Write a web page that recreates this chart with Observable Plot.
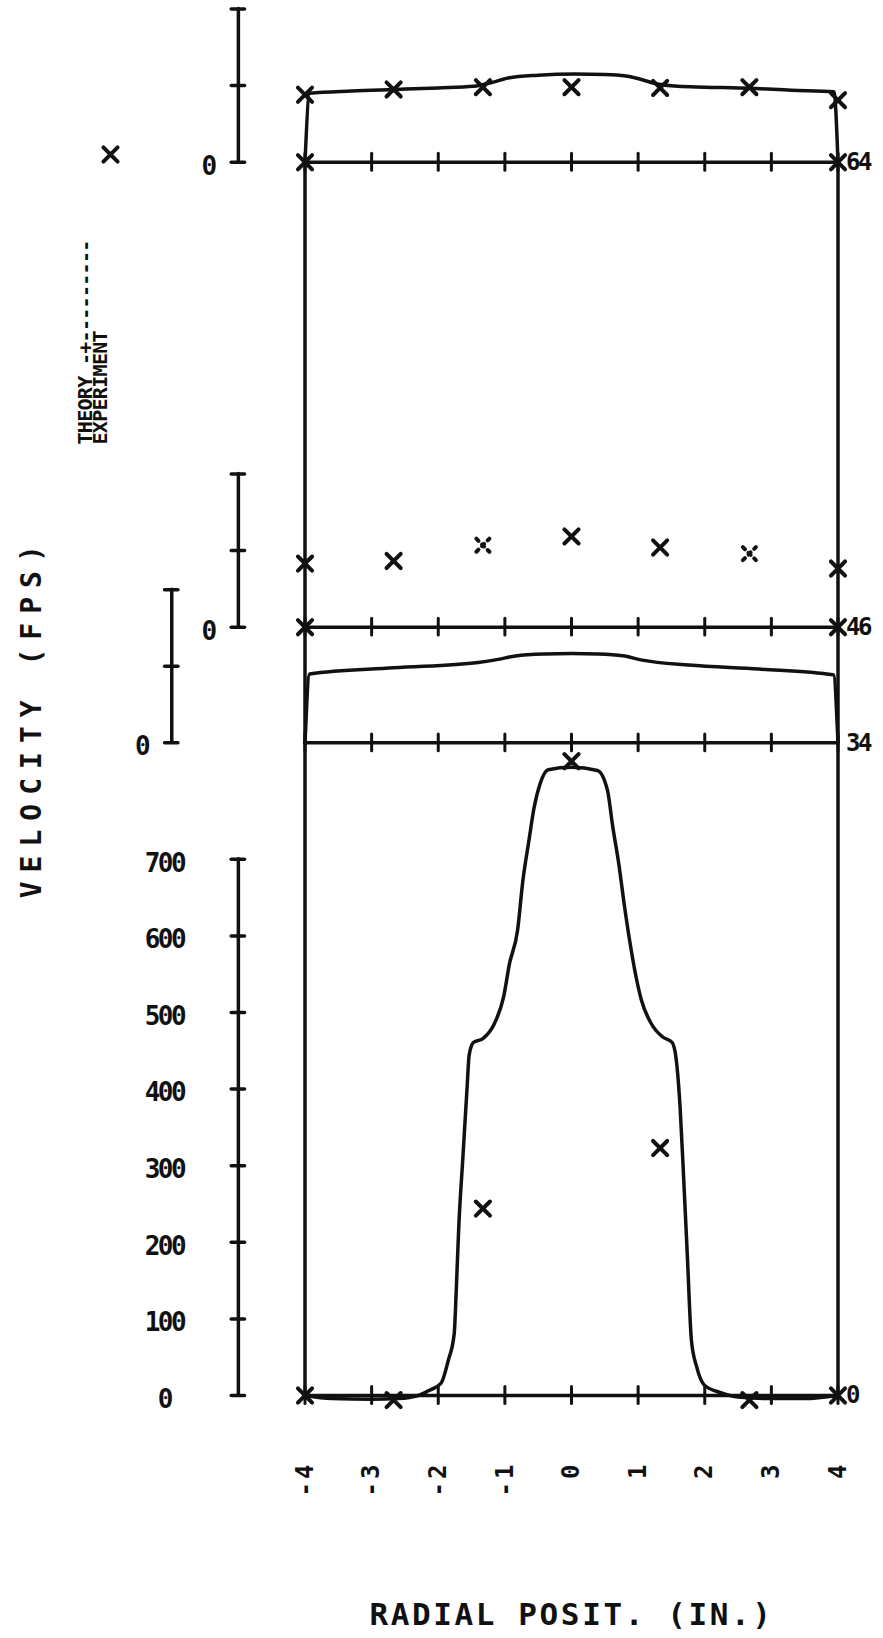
<!DOCTYPE html>
<html>
<head>
<meta charset="utf-8">
<script src="https://cdn.jsdelivr.net/npm/d3@7"></script>
<script src="https://cdn.jsdelivr.net/npm/@observablehq/plot@0.6"></script>
<style>
  body { margin: 0; background: #fff; }
  svg text { white-space: pre; }
  g[aria-description="velocity-title"] text { letter-spacing: 9px; }
  g[aria-description="radial-title"] text { letter-spacing: 2.6px; }
  g[aria-description="radial-ticks"] text { letter-spacing: 3px; }
  g[aria-description="scale-labels"] text { letter-spacing: -2.5px; }
  g[aria-description="legend"] text { letter-spacing: -0.7px; }
</style>
</head>
<body>
<div id="chart"></div>
<script>
// ---- Data -------------------------------------------------------------

// Radial grid (in.) and its labels
const radialTicks = [-4, -3, -2, -1, 0, 1, 2, 3, 4];
const radialTickLabels = ["-4", "-3", "-2", "-1", "0", "1", "2", "3", "4"];

// Axial stations, bottom to top
const stations = ["0", "34", "46", "64"];

// Velocity scale (fps)
const velocityTicks = [0, 100, 200, 300, 400, 500, 600, 700];
const velocityTickLabels = ["0", "100", "200", "300", "400", "500", "600", "700"];
const stationScaleTicks = [0, 100, 200];

// Experimental points (fps) at the probe radii
const expRadius = [-4, -2.67, -1.33, 0, 1.33, 2.67, 4];
const exp0 = [0, -6, 244, 828, 323, -6, 0];
const exp46 = [83, 86.5, 107, 118.5, 104, 96, 76.5];
const exp64 = [88, 95, 98, 98, 97, 98, 81];

// No-slip points at the walls
const wallRadius = [-4, 4];
const wallVelocity = [0, 0];

// Theoretical profiles
const theory0R = [-4, -3.6, -3.0, -2.6, -2.3, -2.14, -1.96, -1.85, -1.76, -1.73, -1.69, -1.63, -1.57,
  -1.535, -1.47, -1.33, -1.16, -1.02, -0.93, -0.81, -0.73, -0.64, -0.56, -0.47, -0.35, 0,
  0.39, 0.54, 0.62, 0.71, 0.79, 0.88, 0.97, 1.05, 1.20, 1.37, 1.51, 1.57, 1.63, 1.68, 1.74,
  1.80, 1.88, 2.00, 2.23, 2.5, 3.0, 3.5, 4];
const theory0V = [0, -4, -5, -4, 0, 6.5, 15.7, 45.7, 81, 137, 224, 311, 398,
  445, 461, 466, 485, 520, 564, 607, 672, 724, 768, 799, 817, 820,
  816, 790, 742, 694, 642, 590, 546, 516, 485, 468, 461, 440, 376, 290, 180,
  72, 37, 13, 4, -2, -4, -4, 0];

const theory34R = [-4, -3.93, -2.67, -1.40, -1.1, -0.84, -0.4, 0, 0.4, 0.77, 1.06, 1.76, 2.81, 3.93, 4];
const theory34V = [0, 90, 98, 105, 109, 113.5, 116, 116.6, 116, 113.6, 108, 101.5, 96.3, 88.8, 0];

const theory64R = [-4, -3.93, -3.3, -2.65, -2.0, -1.47, -1.2, -0.95, -0.5, 0.05, 0.5, 0.82, 1.05, 1.24, 1.6, 2.0, 2.68, 3.3, 3.94, 4];
const theory64V = [0, 90, 93, 95, 97, 99, 104, 110, 113.5, 115, 114.5, 112.5, 108, 103, 99, 98, 96.5, 94, 92, 0];

// ---- Layout -----------------------------------------------------------

// Each station is stacked above the station-0 baseline, in velocity units
const stationBase = {"0": 0, "34": 852, "46": 1003, "64": 1610};
// Radius (in.) at which each station's velocity scale bar stands
const scaleBarR = {"0": -5, "34": -6, "46": -5, "64": -5};
const scaleTicksFor = s => (s === "0" ? velocityTicks : stationScaleTicks);

// ---- Rows for the marks ----------------------------------------------

const theoryRows = [
  ...theory0R.map((r, i) => ({station: "0", r, v: theory0V[i]})),
  ...theory34R.map((r, i) => ({station: "34", r, v: theory34V[i]})),
  ...theory64R.map((r, i) => ({station: "64", r, v: theory64V[i]}))
];

const expRows = [
  ...expRadius.map((r, i) => ({station: "0", r, v: exp0[i], i})),
  ...expRadius.map((r, i) => ({station: "46", r, v: exp46[i], i})),
  ...expRadius.map((r, i) => ({station: "64", r, v: exp64[i], i})),
  ...["46", "64"].flatMap(station => wallRadius.map((r, i) => ({station, r, v: wallVelocity[i], i: -1})))
];
// two of the station-46 crosses came out broken by the pen
const brokenPen = d => d.station === "46" && (d.i === 2 || d.i === 5);

const baseTickRows = stations.flatMap(s => radialTicks.map(r => ({s, r})));
const scaleTickRows = stations.flatMap(s => scaleTicksFor(s).map(v => ({s, v})));

// ---- Plot ------------------------------------------------------------

const ink = "#111";
const pen = {stroke: ink, strokeWidth: 3.5, strokeLinecap: "round", strokeLinejoin: "round"};
const mono = {fontFamily: "DejaVu Sans Mono", fontWeight: "bold", fill: ink};
const cross = {symbol: "times", r: 6.5, stroke: ink, strokeWidth: 4, strokeLinecap: "round"};
const yOf = d => stationBase[d.station] + d.v;

const chart = Plot.plot({
  width: 883,
  height: 1638,
  marginLeft: 304.5,
  marginRight: 45.5,
  marginTop: 8.5,
  marginBottom: 243,
  x: {domain: [-4, 4], axis: null},
  y: {domain: [0, 1810], axis: null},
  style: {background: "#fff", color: ink, overflow: "visible"},
  marks: [
    // duct walls
    Plot.ruleX(wallRadius, {y1: 0, y2: stationBase["64"], ...pen}),
    // station baselines and their radial ticks
    Plot.ruleY(stations, {y: s => stationBase[s], x1: -4, x2: 4, ...pen}),
    Plot.ruleX(baseTickRows, {
      x: "r",
      y1: d => stationBase[d.s] - 11,
      y2: d => stationBase[d.s] + 11,
      ...pen, strokeWidth: 3
    }),
    // theory
    Plot.line(theoryRows, {x: "r", y: yOf, z: "station", curve: "monotone-x", ...pen}),
    // experiment
    Plot.dot(expRows.filter(d => !brokenPen(d)), {x: "r", y: yOf, ...cross}),
    Plot.dot(expRows.filter(brokenPen), {x: "r", y: yOf, ...cross, r: 6, strokeDasharray: "3,5"}),
    // velocity scale bars
    Plot.ruleX(stations, {
      x: s => scaleBarR[s],
      y1: s => stationBase[s],
      y2: s => stationBase[s] + d3.max(scaleTicksFor(s)),
      ...pen
    }),
    Plot.ruleY(scaleTickRows, {
      y: d => stationBase[d.s] + d.v,
      x1: d => scaleBarR[d.s] - 0.1,
      x2: d => scaleBarR[d.s] + 0.1,
      ...pen
    }),
    Plot.text(velocityTicks, {
      x: -5, y: v => v, text: (v, i) => velocityTickLabels[i],
      dx: -74, dy: 4, textAnchor: "middle", lineAnchor: "middle", fontSize: 26, ...mono,
      ariaDescription: "scale-labels"
    }),
    Plot.text(["34", "46", "64"], {
      x: s => scaleBarR[s], y: s => stationBase[s], text: () => "0",
      dx: -29, dy: 4, textAnchor: "middle", lineAnchor: "middle", fontSize: 26, ...mono
    }),
    // station labels
    Plot.text(stations, {
      x: 4, y: s => stationBase[s], text: s => s,
      dx: 8, textAnchor: "start", lineAnchor: "middle", fontSize: 24, ...mono,
      ariaDescription: "scale-labels"
    }),
    // radial tick labels
    Plot.text(radialTicks, {
      x: r => r, text: (r, i) => radialTickLabels[i], frameAnchor: "bottom",
      dy: 66, rotate: -90, textAnchor: "end", lineAnchor: "middle", fontSize: 24, ...mono,
      ariaDescription: "radial-ticks"
    }),
    // axis titles
    Plot.text(["VELOCITY (FPS)"], {
      frameAnchor: "left", dx: -273, dy: 15, rotate: -90,
      textAnchor: "middle", lineAnchor: "middle", fontSize: 28, ...mono,
      ariaDescription: "velocity-title"
    }),
    Plot.text(["RADIAL POSIT. (IN.)"], {
      frameAnchor: "bottom", dy: 219.5,
      textAnchor: "middle", lineAnchor: "middle", fontSize: 31, ...mono,
      ariaDescription: "radial-title"
    }),
    // legend
    Plot.text(["THEORY -+---------"], {
      frameAnchor: "top-left", dx: -213, dy: 435.5, rotate: -90,
      textAnchor: "start", lineAnchor: "bottom", fontSize: 20, ...mono,
      ariaDescription: "legend"
    }),
    Plot.text(["EXPERIMENT"], {
      frameAnchor: "top-left", dx: -198, dy: 435.5, rotate: -90,
      textAnchor: "start", lineAnchor: "bottom", fontSize: 20, ...mono,
      ariaDescription: "legend"
    }),
    Plot.dot([null], {frameAnchor: "top-left", dx: -194.5, dy: 145.5, ...cross})
  ]
});

document.getElementById("chart").append(chart);
</script>
</body>
</html>
